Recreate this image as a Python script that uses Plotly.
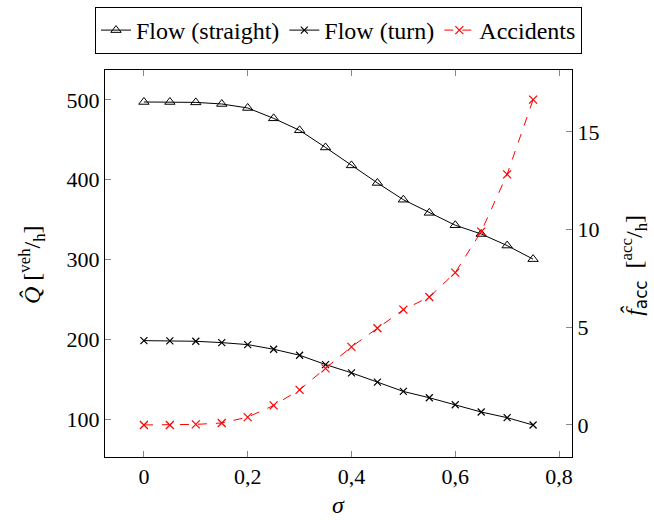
import plotly.graph_objects as go

sigma = [0.0, 0.05, 0.1, 0.15, 0.2, 0.25, 0.3, 0.35, 0.4, 0.45, 0.5, 0.55, 0.6, 0.65, 0.7, 0.75]
flow_straight = [497.5, 497.5, 497, 495, 490, 477, 462, 440.5, 418, 396, 375, 358.5, 343, 332, 317.5, 300.5]
flow_turn = [198.3, 198, 197.5, 195.8, 193.3, 187.5, 180, 168.3, 157.9, 146.3, 134.6, 126.7, 117.9, 108.8, 101.7, 92.5]
accidents = [0.0, 0.0, 0.03, 0.1, 0.4, 1.0, 1.8, 2.9, 4.0, 4.95, 5.9, 6.55, 7.8, 9.9, 12.83, 16.65]

x_ticks = [0, 0.2, 0.4, 0.6, 0.8]
y1_ticks = [100, 200, 300, 400, 500]
y2_ticks = [0, 5, 10, 15]

FONT = "'Liberation Serif', 'DejaVu Serif', serif"

fig = go.Figure()
fig.add_trace(go.Scatter(
    x=sigma, y=flow_straight, name="Flow (straight)", mode="lines+markers",
    line=dict(color="black", width=1),
    marker=dict(symbol="triangle-up-open", size=9, color="black", line=dict(width=1)),
))
fig.add_trace(go.Scatter(
    x=sigma, y=flow_turn, name="Flow (turn)", mode="lines+markers",
    line=dict(color="black", width=1),
    marker=dict(symbol="x-thin-open", size=7, color="black", line=dict(width=1.2, color="black")),
))
fig.add_trace(go.Scatter(
    x=sigma, y=accidents, name="Accidents", mode="lines+markers", yaxis="y2",
    line=dict(color="#ff0000", width=1, dash="dash"),
    marker=dict(symbol="x-thin-open", size=8, color="#ff0000", line=dict(width=1.2, color="#ff0000")),
))

axis_common = dict(
    showgrid=False, zeroline=False, showline=True, linecolor="black", linewidth=1,
    ticks="inside", ticklen=6, tickcolor="#888888", tickwidth=1,
    tickfont=dict(family=FONT, size=22, color="black"),
)

fig.update_layout(
    width=654, height=520,
    margin=dict(l=105, r=82, t=70, b=63, autoexpand=False),
    paper_bgcolor="white", plot_bgcolor="white",
    separators=",.",
    font=dict(family=FONT, size=22, color="black"),
    xaxis=dict(range=[-0.075, 0.825], tickvals=x_ticks, mirror="ticks", **axis_common),
    yaxis=dict(range=[52.4, 537.6], tickvals=y1_ticks, **axis_common),
    yaxis2=dict(range=[-1.64, 18.17], tickvals=y2_ticks, overlaying="y", side="right", **axis_common),
    legend=dict(
        orientation="h", x=(95 - 105) / 467, xanchor="left", y=(457 - 7) / 387, yanchor="top",
        bordercolor="black", borderwidth=1, font=dict(family=FONT, size=24, color="black"),
        itemwidth=30, tracegroupgap=0,
    ),
    showlegend=True,
)

fig.add_annotation(
    text="<i>Q\u0302</i> [<sup>veh</sup>/<sub>h</sub>]", xref="paper", yref="paper",
    x=(32 - 105) / 467, y=0.496, xanchor="center", yanchor="middle",
    textangle=-90, showarrow=False, font=dict(family=FONT, size=24),
)
fig.add_annotation(
    text="<i>f\u0302</i><sub><span style='font-family:DejaVu Sans'>acc</span></sub>  [<sup>acc</sup>/<sub>h</sub>]",
    xref="paper", yref="paper",
    x=(634 - 105) / 467, y=0.494, xanchor="center", yanchor="middle",
    textangle=-90, showarrow=False, font=dict(family=FONT, size=24),
)
fig.add_annotation(
    text="<i>σ</i>", xref="paper", yref="paper", x=0.5, y=-0.124, yanchor="middle",
    showarrow=False, font=dict(family=FONT, size=24),
)

fig.write_html(
    "out.html",
    config={"displayModeBar": False},
    post_script="document.body.style.margin='0';document.body.style.overflow='hidden';",
)
